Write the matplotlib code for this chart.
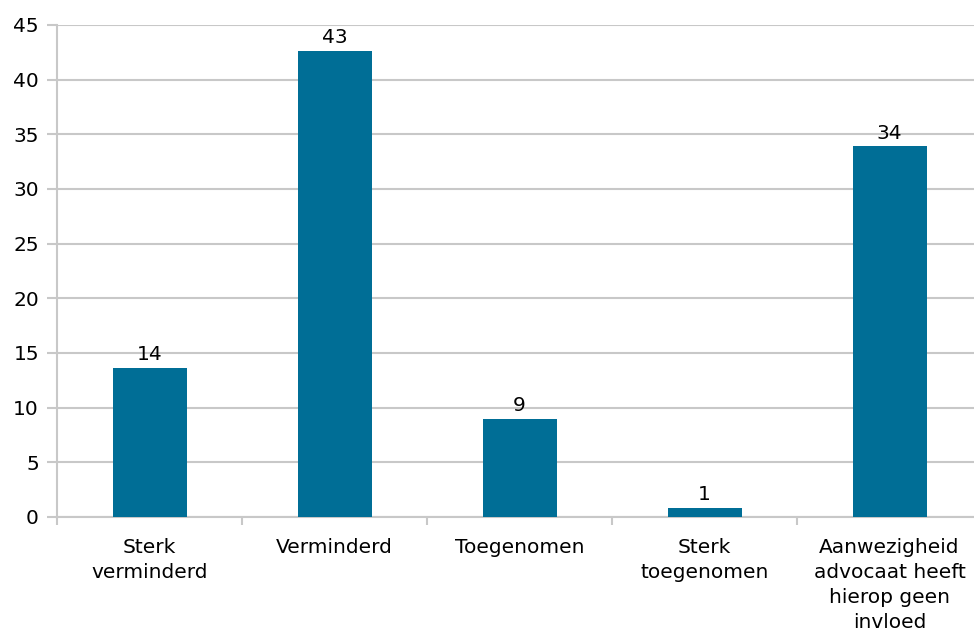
import matplotlib.pyplot as plt
import numpy as np

categories = ["Sterk\nverminderd", "Verminderd", "Toegenomen", "Sterk\ntoegenomen",
              "Aanwezigheid\nadvocaat heeft\nhierop geen\ninvloed"]
values = [13.6, 42.6, 9.0, 0.85, 33.9]
labels = ["14", "43", "9", "1", "34"]

bar_color = "#006E96"
grid_color = "#C8C8C8"

fig = plt.figure(figsize=(9.74, 6.3), dpi=100)
ax = fig.add_axes([57 / 974, 1 - 517 / 630, (982 - 57) / 974, 492 / 630])

x = np.arange(len(categories))
bars = ax.bar(x, values, width=0.4, color=bar_color, zorder=3)

for b, lab in zip(bars, labels):
    ax.text(b.get_x() + b.get_width() / 2, b.get_height() + 0.35, lab,
            ha="center", va="bottom", fontsize=14.5, color="black")

ax.set_xlim(-0.5, len(categories) - 0.5)
ax.set_ylim(0, 45)
ax.set_yticks(range(0, 46, 5))
ax.set_xticks(x)
ax.set_xticklabels(categories, fontsize=14.5, linespacing=1.4)
ax.set_xticks(np.arange(-0.5, len(categories)), minor=True)

ax.tick_params(axis="x", which="major", length=0, pad=15)
ax.tick_params(axis="x", which="minor", length=6, color=grid_color, width=1.5)
ax.tick_params(axis="y", length=7, color=grid_color, width=1.5, labelsize=14.5, pad=6)

ax.yaxis.grid(True, color=grid_color, linewidth=1.5, zorder=0)
for s in ["top", "right"]:
    ax.spines[s].set_visible(False)
for s in ["left", "bottom"]:
    ax.spines[s].set_color(grid_color)
    ax.spines[s].set_linewidth(1.5)

fig.savefig("out.png", dpi=100)
